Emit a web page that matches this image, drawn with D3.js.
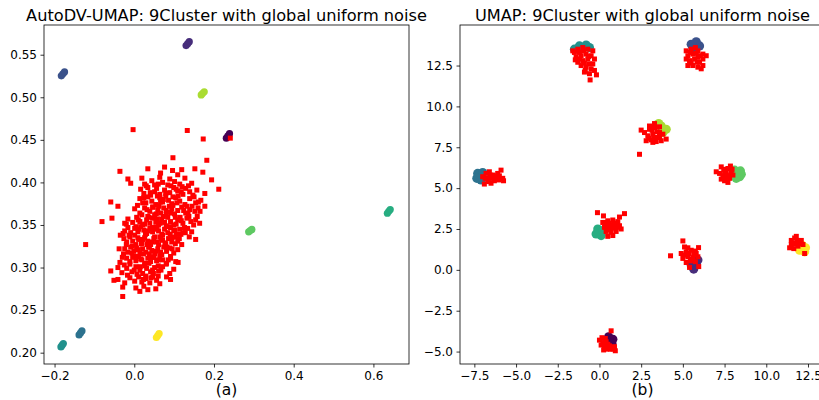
<!DOCTYPE html>
<html>
<head>
<meta charset="utf-8">
<script src="https://cdn.jsdelivr.net/npm/d3@7"></script>
<style>
  html, body { margin: 0; padding: 0; background: #fff; }
  svg { display: block; font-family: "DejaVu Sans", sans-serif; }
</style>
</head>
<body>
<svg id="fig" width="819" height="400"></svg>
<script>
// Viridis colours, one per cluster label
const palette = ["#440154", "#472d7b", "#3b528b", "#2c728e", "#21918c", "#27ad81", "#5ec962", "#aadc32", "#fde725"];

// Panel (a): AutoDV-UMAP embedding — cluster points [label, x, y]
const autodvClusters = [
  [2, -0.183, 0.5252], [2, -0.179, 0.5275], [2, -0.175, 0.5298],
  [1, 0.130, 0.5607], [1, 0.134, 0.5630], [1, 0.138, 0.5653],
  [7, 0.168, 0.5028], [7, 0.1717, 0.5046], [7, 0.1755, 0.5064],
  [0, 0.231, 0.4520], [0, 0.235, 0.4546], [0, 0.239, 0.4572],
  [5, 0.635, 0.3638], [5, 0.6386, 0.3660], [5, 0.6422, 0.3682],
  [6, 0.287, 0.3420], [6, 0.291, 0.3434], [6, 0.295, 0.3448],
  [3, -0.1385, 0.2208], [3, -0.1349, 0.2232], [3, -0.1313, 0.2256],
  [4, -0.184, 0.2068], [4, -0.181, 0.2088], [4, -0.178, 0.2108],
  [8, 0.0555, 0.2178], [8, 0.0589, 0.2201], [8, 0.0623, 0.2224]
];

// Panel (a): global uniform noise points [x, y]
const autodvNoise = [
  [-0.003, 0.462], [0.133, 0.461], [0.173, 0.451], [0.241, 0.452],
  [0.097, 0.429], [0.182, 0.426],
  [-0.036, 0.413], [0.034, 0.416], [0.066, 0.411], [0.076, 0.418], [0.096, 0.414], [0.109, 0.409], [0.119, 0.415], [0.152, 0.416], [0.172, 0.412],
  [-0.016, 0.404], [-0.009, 0.399], [0.019, 0.405], [0.026, 0.398], [0.044, 0.402], [0.051, 0.397], [0.064, 0.406], [0.071, 0.400], [0.084, 0.397], [0.089, 0.404], [0.101, 0.401], [0.114, 0.398], [0.127, 0.405], [0.144, 0.399], [0.194, 0.403],
  [0.016, 0.392], [0.024, 0.387], [0.034, 0.394], [0.051, 0.389], [0.056, 0.393], [0.064, 0.386], [0.076, 0.391], [0.089, 0.388], [0.099, 0.394], [0.109, 0.390], [0.122, 0.386], [0.129, 0.393], [0.139, 0.389], [0.157, 0.391], [0.177, 0.387], [0.212, 0.392],
  [-0.059, 0.377], [-0.041, 0.372], [0.014, 0.381], [0.021, 0.376], [0.034, 0.383], [0.044, 0.378], [0.054, 0.374], [0.064, 0.382], [0.071, 0.377], [0.079, 0.384], [0.086, 0.379], [0.094, 0.375], [0.104, 0.382], [0.114, 0.378], [0.127, 0.374], [0.139, 0.381], [0.154, 0.376], [0.167, 0.379], [0.177, 0.372],
  [0.001, 0.369], [0.014, 0.364], [0.026, 0.370], [0.039, 0.366], [0.046, 0.371], [0.051, 0.362], [0.059, 0.368], [0.066, 0.364], [0.074, 0.370], [0.084, 0.365], [0.094, 0.369], [0.101, 0.363], [0.109, 0.367], [0.119, 0.371], [0.129, 0.364], [0.139, 0.368], [0.152, 0.366],
  [-0.081, 0.354], [-0.056, 0.358], [-0.024, 0.352], [-0.016, 0.357], [-0.004, 0.353], [0.006, 0.359], [0.014, 0.354], [0.021, 0.350], [0.031, 0.356], [0.039, 0.352], [0.046, 0.358], [0.054, 0.354], [0.061, 0.350], [0.069, 0.357], [0.076, 0.353], [0.084, 0.359], [0.091, 0.354], [0.099, 0.350], [0.109, 0.356], [0.122, 0.352], [0.132, 0.358], [0.142, 0.354], [0.154, 0.356], [0.164, 0.352],
  [-0.024, 0.343], [-0.016, 0.347], [-0.009, 0.341], [0.001, 0.346], [0.009, 0.342], [0.016, 0.348], [0.024, 0.344], [0.031, 0.340], [0.039, 0.346], [0.046, 0.342], [0.054, 0.348], [0.061, 0.343], [0.069, 0.339], [0.076, 0.345], [0.084, 0.341], [0.091, 0.347], [0.099, 0.343], [0.106, 0.339], [0.114, 0.345], [0.122, 0.341], [0.134, 0.346], [0.144, 0.342],
  [-0.122, 0.327], [-0.026, 0.334], [-0.019, 0.330], [-0.011, 0.336], [-0.004, 0.331], [0.004, 0.327], [0.011, 0.333], [0.019, 0.329], [0.026, 0.335], [0.034, 0.331], [0.041, 0.327], [0.049, 0.334], [0.056, 0.330], [0.064, 0.336], [0.071, 0.332], [0.079, 0.328], [0.086, 0.334], [0.094, 0.330], [0.101, 0.336], [0.109, 0.331], [0.119, 0.327], [0.154, 0.333],
  [-0.024, 0.322], [-0.016, 0.318], [-0.009, 0.324], [-0.001, 0.319], [0.006, 0.323], [0.014, 0.317], [0.021, 0.322], [0.029, 0.318], [0.036, 0.324], [0.044, 0.320], [0.051, 0.316], [0.059, 0.322], [0.066, 0.318], [0.074, 0.324], [0.081, 0.319], [0.089, 0.323], [0.099, 0.317], [0.109, 0.321],
  [-0.036, 0.306], [-0.019, 0.311], [-0.011, 0.307], [-0.004, 0.312], [0.004, 0.308], [0.011, 0.313], [0.019, 0.309], [0.026, 0.305], [0.034, 0.311], [0.041, 0.307], [0.049, 0.312], [0.056, 0.308], [0.064, 0.313], [0.071, 0.309], [0.081, 0.305], [0.091, 0.311], [0.104, 0.307],
  [-0.059, 0.296], [-0.041, 0.300], [-0.031, 0.294], [-0.019, 0.299], [-0.006, 0.295], [0.004, 0.301], [0.014, 0.297], [0.021, 0.293], [0.031, 0.299], [0.041, 0.295], [0.051, 0.300], [0.061, 0.296], [0.071, 0.301], [0.089, 0.293], [0.099, 0.298],
  [-0.051, 0.285], [-0.041, 0.286], [-0.024, 0.282], [-0.011, 0.288], [0.001, 0.284], [0.011, 0.289], [0.019, 0.283], [0.029, 0.287], [0.039, 0.282], [0.046, 0.289], [0.056, 0.285], [0.064, 0.281], [0.091, 0.286],
  [-0.029, 0.277], [0.004, 0.276], [0.014, 0.272], [0.024, 0.278], [0.034, 0.274], [0.054, 0.275],
  [-0.029, 0.266],
  [0.040, 0.388], [0.058, 0.384], [0.079, 0.387], [0.097, 0.383], [0.118, 0.389],
  [0.029, 0.376], [0.047, 0.371], [0.066, 0.377], [0.088, 0.372], [0.107, 0.376], [0.132, 0.372], [0.161, 0.377],
  [0.019, 0.362], [0.037, 0.359], [0.055, 0.363], [0.073, 0.360], [0.092, 0.364], [0.115, 0.359], [0.135, 0.363], [0.158, 0.360],
  [0.004, 0.348], [0.026, 0.351], [0.046, 0.347], [0.065, 0.352], [0.088, 0.348], [0.105, 0.351], [0.126, 0.347], [0.149, 0.350],
  [-0.013, 0.338], [0.009, 0.335], [0.028, 0.339], [0.051, 0.336], [0.071, 0.338], [0.095, 0.335], [0.117, 0.339], [0.138, 0.336],
  [-0.005, 0.325], [0.018, 0.328], [0.038, 0.324], [0.061, 0.327], [0.082, 0.324], [0.103, 0.328],
  [-0.027, 0.316], [0.001, 0.313], [0.023, 0.316], [0.045, 0.312], [0.069, 0.315], [0.091, 0.313],
  [-0.011, 0.304], [0.015, 0.301], [0.037, 0.305], [0.060, 0.302], [0.080, 0.304],
  [0.007, 0.292], [0.029, 0.290], [0.048, 0.293], [0.081, 0.289],
  [0.120, 0.395], [0.150, 0.383], [0.165, 0.366], [-0.035, 0.338], [-0.038, 0.322], [0.110, 0.306],
  [0.030, 0.396], [0.060, 0.398], [0.092, 0.396], [0.136, 0.396], [0.105, 0.392],
  [0.024, 0.382], [0.041, 0.385], [0.073, 0.380], [0.110, 0.384], [0.147, 0.385], [0.160, 0.370],
  [0.008, 0.373], [0.032, 0.368], [0.062, 0.372], [0.080, 0.367], [0.097, 0.373], [0.124, 0.367], [0.145, 0.372],
  [0.010, 0.356], [0.034, 0.360], [0.058, 0.357], [0.080, 0.362], [0.103, 0.359], [0.118, 0.355], [0.137, 0.360],
  [-0.020, 0.351], [0.011, 0.345], [0.035, 0.343], [0.057, 0.345], [0.080, 0.349], [0.102, 0.344], [0.128, 0.341],
  [-0.028, 0.340], [0.001, 0.338], [0.022, 0.333], [0.045, 0.330], [0.067, 0.333], [0.090, 0.339], [0.113, 0.334],
  [-0.020, 0.327], [0.010, 0.321], [0.032, 0.327], [0.055, 0.319], [0.077, 0.329], [0.095, 0.322],
  [-0.030, 0.312], [-0.006, 0.317], [0.016, 0.310], [0.038, 0.316], [0.060, 0.309], [0.085, 0.309],
  [-0.025, 0.303], [0.000, 0.297], [0.026, 0.302], [0.046, 0.297], [0.067, 0.297],
  [-0.017, 0.291], [0.023, 0.286], [0.042, 0.288], [0.060, 0.290]
];

// Panel (b): plain UMAP embedding — cluster points [label, x, y]
const umapClusters = [
  [4, -1.2, 13.70], [4, -0.8, 13.75], [4, -1.5, 13.50], [4, -0.6, 13.60],
  [2, 5.5, 13.80], [2, 5.8, 13.95], [2, 6.0, 13.70], [2, 5.6, 13.60],
  [7, 3.7, 8.80], [7, 4.0, 8.60], [7, 3.8, 8.40], [7, 3.55, 8.95],
  [3, -7.3, 5.90], [3, -7.1, 5.50], [3, -7.0, 5.95], [3, -7.35, 5.60],
  [6, 8.1, 6.10], [6, 8.45, 6.05], [6, 8.4, 5.70], [6, 8.2, 5.60], [6, 8.5, 5.85],
  [5, -0.1, 2.50], [5, 0.1, 2.10], [5, -0.2, 2.20], [5, 0.2, 2.40],
  [1, 5.5, 0.30], [1, 5.8, 0.35], [1, 5.65, 0.05], [1, 5.9, 0.60],
  [8, 12.15, 1.50], [8, 12.3, 1.10], [8, 12.0, 1.20], [8, 12.35, 1.35],
  [0, 0.55, -4.10], [0, 0.8, -4.25], [0, 0.45, -4.35], [0, 0.75, -4.50]
];

// Panel (b): the same noise points, now pulled onto the clusters [x, y]
const umapNoise = [
  [-1.5, 13.3], [-1.3, 13.5], [-1.0, 13.6], [-0.7, 13.5], [-0.4, 13.4], [-1.4, 13.0], [-1.1, 13.1], [-0.8, 13.2], [-0.5, 13.1], [-0.3, 12.9],
  [-1.3, 12.7], [-1.0, 12.8], [-0.7, 12.9], [-0.4, 12.6], [-1.1, 12.5], [-0.8, 12.4], [-0.5, 12.3], [-0.9, 12.1], [-0.6, 12.0], [-0.3, 12.2],
  [-1.6, 13.4], [-0.18, 11.93], [-0.56, 11.62], [-1.2, 13.3], [-0.6, 12.6],
  [-1.2, 12.9], [-0.9, 12.65], [-1.45, 12.85], [-0.95, 13.4], [-0.65, 13.05], [-0.85, 12.2],
  [5.2, 13.4], [5.5, 13.5], [5.9, 13.4], [6.2, 13.2], [5.3, 13.1], [5.6, 13.2], [5.9, 13.0], [6.2, 12.9], [5.4, 12.8], [5.7, 12.9],
  [6.0, 12.7], [5.3, 12.5], [5.6, 12.5], [5.9, 12.4], [6.2, 12.5], [5.2, 12.9], [5.75, 13.6], [6.4, 13.1],
  [5.45, 13.3], [5.8, 13.25], [6.05, 13.1], [5.5, 12.65], [5.85, 12.7], [6.1, 12.3],
  [2.7, 8.4], [3.0, 8.6], [3.3, 8.7], [3.6, 8.4], [2.9, 8.2], [3.2, 8.3], [3.5, 8.1], [3.8, 8.3], [2.8, 7.9], [3.1, 7.95],
  [3.4, 7.85], [3.7, 7.9], [3.0, 8.8], [4.0, 8.0], [2.5, 8.55], [2.4, 7.07], [3.3, 8.95], [3.6, 8.75],
  [3.15, 8.55], [3.45, 8.45], [2.95, 8.05], [3.25, 8.1], [3.6, 8.1], [3.2, 7.8],
  [-7.0, 5.7], [-6.8, 5.9], [-6.6, 5.6], [-6.4, 5.8], [-6.2, 5.6], [-6.0, 5.75], [-5.8, 5.6], [-6.7, 5.4], [-6.5, 5.3], [-6.3, 5.45],
  [-6.1, 5.9], [-5.9, 6.1], [-6.9, 5.25], [-6.6, 6.0], [-5.75, 5.45],
  [-6.85, 5.6], [-6.45, 5.6], [-6.2, 5.75], [-6.55, 5.8], [-6.05, 5.5],
  [7.0, 6.0], [7.3, 6.3], [7.5, 6.0], [7.7, 6.2], [7.9, 6.0], [7.4, 5.75], [7.6, 5.8], [7.8, 5.6], [7.5, 5.45], [7.7, 5.35],
  [7.2, 5.9], [8.0, 5.8], [7.85, 6.35], [7.3, 5.55],
  [7.45, 6.15], [7.6, 5.95], [7.75, 5.75], [7.95, 6.15], [7.55, 5.6],
  [-0.12, 3.5], [0.24, 3.3], [1.5, 3.44], [1.2, 3.23], [0.2, 2.9], [0.5, 3.0], [0.8, 3.05], [1.1, 2.95], [0.3, 2.6], [0.6, 2.7],
  [0.9, 2.6], [1.2, 2.7], [0.4, 2.35], [0.7, 2.3], [1.0, 2.35], [1.3, 2.5], [0.5, 2.05], [0.8, 2.1], [0.6, 2.85], [0.95, 2.85],
  [0.45, 2.75], [0.75, 2.55], [1.05, 2.6], [0.55, 2.45], [0.9, 2.85], [0.35, 2.9],
  [5.0, 1.77], [4.26, 0.86], [5.94, 1.36], [5.1, 1.4], [4.9, 1.0], [5.2, 1.1], [5.5, 1.2], [5.8, 1.0], [5.0, 0.7], [5.3, 0.8],
  [5.6, 0.75], [5.9, 0.8], [5.2, 0.45], [5.45, 0.55], [5.75, 0.5], [5.4, 0.15], [5.95, 0.2], [5.3, 1.35],
  [5.35, 1.0], [5.65, 0.95], [5.15, 0.9], [5.5, 0.65], [5.75, 1.15],
  [11.5, 1.8], [11.7, 1.95], [11.5, 1.55], [11.75, 1.6], [11.95, 1.7], [11.4, 1.35], [11.65, 1.3], [11.9, 1.45], [12.2, 1.55], [12.3, 1.0],
  [11.8, 2.05], [12.1, 1.8], [11.6, 1.65], [11.85, 1.8], [12.05, 1.6],
  [0.7, -3.73], [0.0, -4.3], [0.2, -4.45], [0.35, -4.2], [0.1, -4.6], [0.3, -4.7], [0.5, -4.55], [0.25, -4.9], [0.65, -4.85], [0.9, -4.7],
  [0.95, -4.95], [0.45, -4.85], [0.15, -4.15], [0.4, -4.4], [0.6, -4.65], [0.3, -4.5], [0.8, -4.85], [0.55, -4.8]
];

// Tick values for both panels
const autodvXTicks = [-0.2, 0.0, 0.2, 0.4, 0.6];
const autodvYTicks = [0.20, 0.25, 0.30, 0.35, 0.40, 0.45, 0.50, 0.55];
const umapXTicks = [-7.5, -5.0, -2.5, 0.0, 2.5, 5.0, 7.5, 10.0, 12.5];
const umapYTicks = [-5.0, -2.5, 0.0, 2.5, 5.0, 7.5, 10.0, 12.5];

const svg = d3.select("#fig");
svg.append("rect").attr("width", 819).attr("height", 400).attr("fill", "#fff");

function panel(opts) {
  const { left, right, top, bottom, xDomain, yDomain, xTicks, yTicks, xFmt, yFmt,
          clusters, noise, clusterR, title, label, clipId } = opts;
  const x = d3.scaleLinear().domain(xDomain).range([left, right]);
  const y = d3.scaleLinear().domain(yDomain).range([bottom, top]);

  svg.append("clipPath").attr("id", clipId)
    .append("rect").attr("x", left).attr("y", top)
    .attr("width", right - left).attr("height", bottom - top);

  const plot = svg.append("g").attr("clip-path", `url(#${clipId})`);

  plot.selectAll("circle.cl").data(clusters).join("circle")
    .attr("class", "cl")
    .attr("cx", d => x(d[1])).attr("cy", d => y(d[2]))
    .attr("r", clusterR)
    .attr("fill", d => palette[d[0]]);

  const s = 5;
  plot.selectAll("rect.nz").data(noise).join("rect")
    .attr("class", "nz")
    .attr("x", d => x(d[0]) - s / 2).attr("y", d => y(d[1]) - s / 2)
    .attr("width", s).attr("height", s)
    .attr("fill", "#ff0000");

  const xAxis = svg.append("g").attr("transform", `translate(0,${bottom})`)
    .call(d3.axisBottom(x).tickValues(xTicks).tickFormat(d3.format(xFmt))
      .tickSize(3.5).tickPadding(3.5));
  const yAxis = svg.append("g").attr("transform", `translate(${left},0)`)
    .call(d3.axisLeft(y).tickValues(yTicks).tickFormat(d3.format(yFmt))
      .tickSize(3.5).tickPadding(3.5));
  [xAxis, yAxis].forEach(g => {
    g.select(".domain").remove();
    g.selectAll(".tick line").attr("stroke", "#000").attr("stroke-width", 0.8);
    g.selectAll(".tick text").attr("fill", "#000")
      .style("font-family", "'DejaVu Sans', sans-serif").style("font-size", "12px");
  });

  svg.append("rect").attr("x", left).attr("y", top)
    .attr("width", right - left).attr("height", bottom - top)
    .attr("fill", "none").attr("stroke", "#000").attr("stroke-width", 0.8);

  const cx = (left + right) / 2;
  svg.append("text").attr("x", cx).attr("y", 20.5)
    .attr("text-anchor", "middle").style("font-size", "16.2px").attr("fill", "#000")
    .text(title);
  svg.append("text").attr("x", cx).attr("y", 395)
    .attr("text-anchor", "middle").style("font-size", "15.5px").attr("fill", "#000")
    .text(label);
}

panel({
  left: 44, right: 409, top: 25, bottom: 364,
  xDomain: [-0.2265, 0.6893], yDomain: [0.1867, 0.5849],
  xTicks: autodvXTicks, yTicks: autodvYTicks, xFmt: ".1f", yFmt: ".2f",
  clusters: autodvClusters, noise: autodvNoise, clusterR: 3.6,
  title: "AutoDV-UMAP: 9Cluster with global uniform noise", label: "(a)", clipId: "clipA"
});

panel({
  left: 460, right: 825, top: 25, bottom: 364,
  xDomain: [-8.36, 13.52], yDomain: [-5.76, 14.98],
  xTicks: umapXTicks, yTicks: umapYTicks, xFmt: ".1f", yFmt: ".1f",
  clusters: umapClusters, noise: umapNoise, clusterR: 4.6,
  title: "UMAP: 9Cluster with global uniform noise", label: "(b)", clipId: "clipB"
});
</script>
</body>
</html>
